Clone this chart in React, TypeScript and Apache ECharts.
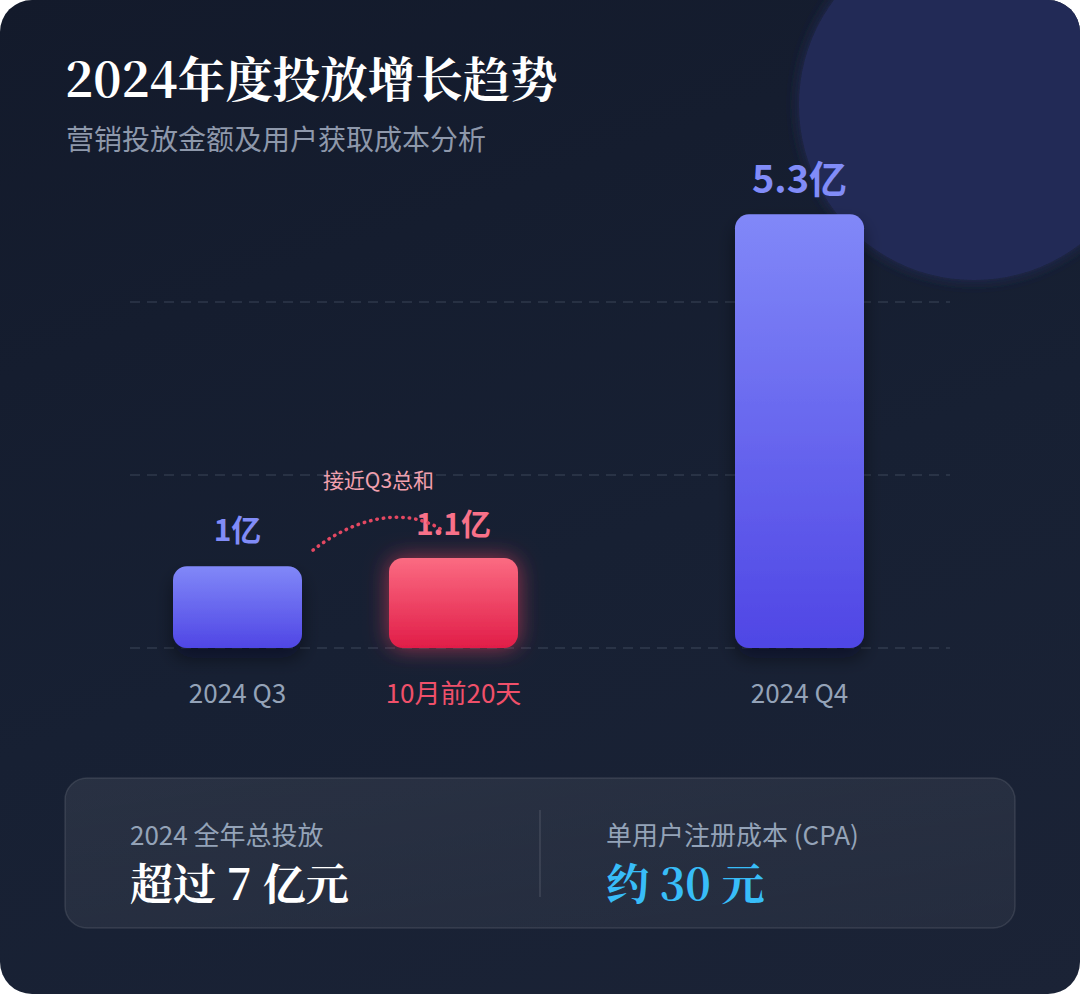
import React, { useEffect, useRef } from "react";
import * as echarts from "echarts";

const leftCategories = ["2024 Q3", "10月前20天"];
const leftValues = [1, 1.1];
const rightCategories = ["2024 Q4"];
const rightValues = [5.3];
const unit = "亿";
const gridStep = 2.118;

const titleText = "2024年度投放增长趋势";
const subtitleText = "营销投放金额及用户获取成本分析";
const noteText = "接近Q3总和";
const statLeftLabel = "2024 全年总投放";
const statLeftValue = "超过 7 亿元";
const statRightLabel = "单用户注册成本 (CPA)";
const statRightValue = "约 30 元";

const SANS = "'Noto Sans CJK SC', 'Noto Sans', sans-serif";
const SERIF = "'Noto Serif CJK SC', 'Liberation Serif', 'Noto Sans CJK SC', serif";

const blueGrad = () =>
  new echarts.graphic.LinearGradient(0, 0, 0, 1, [
    { offset: 0, color: "#8188f8" },
    { offset: 1, color: "#4f46e5" },
  ]);
const redGrad = () =>
  new echarts.graphic.LinearGradient(0, 0, 0, 1, [
    { offset: 0, color: "#fb6b82" },
    { offset: 1, color: "#e11d48" },
  ]);

const Y_TOP = 157;
const Y_BOTTOM = 346;
const Y_MAX = 6;

export default function App() {
  const ref = useRef<HTMLDivElement>(null);
  useEffect(() => {
    document.body.style.margin = "0";
    const chart = echarts.init(ref.current!, null, { renderer: "svg" });

    const staticGraphics: any[] = [
      {
        type: "circle",
        z: -5,
        shape: { cx: 974, cy: 105, r: 175 },
        style: { fill: "#232a57", shadowBlur: 14, shadowColor: "#232a57" },
        silent: true,
      },
      {
        type: "text",
        left: 65,
        top: 53,
        style: {
          text: titleText,
          fill: "#ffffff",
          font: `bold 47.5px ${SERIF}`,
        },
      },
      {
        type: "text",
        left: 66,
        top: 124,
        style: {
          text: subtitleText,
          fill: "#8e98ab",
          font: `28px ${SANS}`,
        },
      },
      {
        type: "rect",
        z: -4,
        shape: { x: 65, y: 778, width: 950, height: 150, r: 22 },
        style: {
          fill: new echarts.graphic.LinearGradient(0, 0, 1, 1, [
            { offset: 0, color: "rgba(255,255,255,0.075)" },
            { offset: 1, color: "rgba(255,255,255,0.045)" },
          ]),
          stroke: "rgba(255,255,255,0.1)",
          lineWidth: 1.5,
        },
      },
      {
        type: "line",
        shape: { x1: 540, y1: 810, x2: 540, y2: 897 },
        style: { stroke: "rgba(255,255,255,0.12)", lineWidth: 1.5 },
      },
      {
        type: "text",
        x: 130,
        y: 833,
        style: {
          text: statLeftLabel,
          fill: "#94a3b8",
          font: `26px ${SANS}`,
          verticalAlign: "middle",
        },
      },
      {
        type: "text",
        x: 130,
        y: 881,
        style: {
          text: statLeftValue,
          fill: "#ffffff",
          font: `bold 43px ${SERIF}`,
          verticalAlign: "middle",
        },
      },
      {
        type: "text",
        x: 606,
        y: 833,
        style: {
          text: statRightLabel,
          fill: "#94a3b8",
          font: `26px ${SANS}`,
          verticalAlign: "middle",
        },
      },
      {
        type: "text",
        x: 606,
        y: 881,
        style: {
          text: statRightValue,
          fill: "#38bdf8",
          font: `bold 43px ${SERIF}`,
          verticalAlign: "middle",
        },
      },
    ];

    const catAxis = (gridIndex: number, data: any[]) => ({
      type: "category",
      gridIndex,
      data,
      axisLine: { show: false },
      axisTick: { show: false },
      axisLabel: {
        color: "#94a3b8",
        fontSize: 26,
        fontFamily: SANS,
        margin: 30,
      },
    });
    const hiddenY = (gridIndex: number) => ({
      type: "value",
      gridIndex,
      min: 0,
      max: Y_MAX,
      show: false,
    });

    const valueLabel = (color: string, size: number, dist: number) => ({
      show: true,
      position: "top",
      distance: dist,
      color,
      fontSize: size,
      fontWeight: "bold",
      fontFamily: SANS,
      formatter: (p: any) => `${p.value}${unit}`,
    });

    chart.setOption({
      animation: false,
      grid: [
        { left: 129.5, width: 432, top: Y_TOP, bottom: Y_BOTTOM },
        { left: 691.5, width: 216, top: Y_TOP, bottom: Y_BOTTOM },
        { left: 130, right: 130, top: Y_TOP, bottom: Y_BOTTOM },
      ],
      xAxis: [
        catAxis(
          0,
          leftCategories.map((c, i) =>
            i === 1 ? { value: c, textStyle: { color: "#f0506a" } } : c
          )
        ),
        catAxis(1, rightCategories),
        { type: "value", gridIndex: 2, show: false, min: 0, max: 1 },
      ],
      yAxis: [
        hiddenY(0),
        hiddenY(1),
        {
          type: "value",
          gridIndex: 2,
          min: 0,
          max: Y_MAX,
          interval: gridStep,
          axisLine: { show: false },
          axisTick: { show: false },
          axisLabel: { show: false },
          splitLine: {
            show: true,
            showMaxLine: false,
            lineStyle: {
              color: "rgba(148,163,184,0.2)",
              width: 1.5,
              type: [10, 7],
            },
          },
        },
      ],
      series: [
        {
          type: "bar",
          xAxisIndex: 0,
          yAxisIndex: 0,
          barWidth: 129,
          data: leftValues.map((v, i) =>
            i === 1
              ? {
                  value: v,
                  itemStyle: {
                    color: redGrad(),
                    borderRadius: 14,
                    shadowBlur: 22,
                    shadowColor: "rgba(244,63,94,0.6)",
                  },
                  label: valueLabel("#f87189", 30, 21),
                }
              : {
                  value: v,
                  itemStyle: {
                    color: blueGrad(),
                    borderRadius: 14,
                    shadowBlur: 18,
                    shadowOffsetY: 10,
                    shadowColor: "rgba(5,8,20,0.45)",
                  },
                  label: valueLabel("#818cf8", 30, 23),
                }
          ),
        },
        {
          type: "bar",
          xAxisIndex: 1,
          yAxisIndex: 1,
          barWidth: 129,
          data: rightValues.map((v) => ({
            value: v,
            itemStyle: {
              color: blueGrad(),
              borderRadius: 14,
              shadowBlur: 18,
              shadowOffsetY: 10,
              shadowColor: "rgba(5,8,20,0.45)",
            },
            label: valueLabel("#818cf8", 38, 19),
          })),
        },
      ],
      graphic: staticGraphics,
    });

    const p1 = chart.convertToPixel({ gridIndex: 0 }, [0, leftValues[0]]) as number[];
    const p2 = chart.convertToPixel({ gridIndex: 0 }, [1, leftValues[1]]) as number[];
    const sx = p1[0] + 75.5;
    const sy = p1[1] - 16;
    const ex = p2[0] - 13;
    const ey = p2[1] - 29;
    chart.setOption({
      graphic: [
        ...staticGraphics,
        {
          type: "bezierCurve",
          z: 100,
          shape: {
            x1: sx,
            y1: sy,
            cpx1: sx + 38,
            cpy1: sy - 30,
            cpx2: sx + 88,
            cpy2: sy - 45,
            x2: ex,
            y2: ey,
          },
          style: {
            stroke: "#e44862",
            lineWidth: 3.5,
            lineDash: [0.5, 6],
            lineCap: "round",
            fill: null,
          },
        },
        {
          type: "text",
          x: p2[0] - 75,
          y: p2[1] - 79,
          style: {
            text: noteText,
            fill: "#f2a0ae",
            font: `21px ${SANS}`,
            align: "center",
            verticalAlign: "middle",
          },
        },
      ],
    });

    return () => chart.dispose();
  }, []);

  return (
    <div
      ref={ref}
      style={{
        position: "absolute",
        left: 0,
        top: 0,
        width: 1080,
        height: 994,
        borderRadius: 32,
        overflow: "hidden",
        background: "linear-gradient(160deg, #131a2b 0%, #172033 55%, #1b2336 100%)",
      }}
    />
  );
}
